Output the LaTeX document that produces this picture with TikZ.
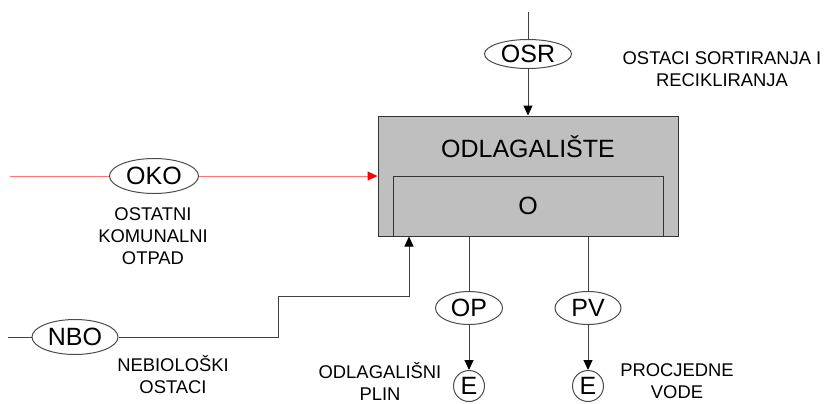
\documentclass[tikz,border=0pt]{standalone}
\usepackage{fontspec}
\setmainfont{Liberation Sans}
\usetikzlibrary{arrows.meta,shapes.geometric}
\begin{document}
\begin{tikzpicture}[x=0.5pt, y=-0.5pt, line width=0.5pt,
  box/.style={rectangle, draw=black!80, fill=black!25, inner sep=0pt,
    font=\fontsize{12.5}{15}\selectfont},
  tok/.style={ellipse, draw=black!70, fill=white, inner sep=0pt,
    minimum width=#1, minimum height=16.5pt, font=\fontsize{12.5}{15}\selectfont},
  ecirc/.style={circle, draw=black!70, fill=white, inner sep=0pt,
    minimum size=15.5pt, font=\fontsize{12.5}{15}\selectfont},
  lbl/.style={align=center, font=\fontsize{9.2}{11}\selectfont},
  arr/.style={draw=black!75, -{Triangle[width=4.5pt,length=5pt,fill=black,color=black]}},
  redarr/.style={draw=red!55, -{Triangle[width=4.5pt,length=5pt,color=red]}}
]
\useasboundingbox (0,0) rectangle (826,403);

% odlagaliste
\node[box, minimum width=150pt, minimum height=60pt] (odl) at (528,176) {};
\node[font=\fontsize{12.5}{15}\selectfont] (odltxt) at (528,147) {ODLAGALIŠTE};
\node[box, minimum width=135pt, minimum height=30pt, anchor=south] (o) at (odl.south) {O};

% ulaz OSR
\coordinate (osrin) at (528,12);
\node[tok=43.5pt, minimum height=14.5pt] (osr) at (528,54) {OSR};
\node[lbl] (osrlbl) at (722,69) {OSTACI SORTIRANJA I\\RECIKLIRANJA};
\draw[draw=black!75] (osrin) -- (osr);
\draw[arr] (osr) -- (odl.north);

% ulaz OKO
\coordinate (okoin) at (10,176);
\node[tok=44.5pt, minimum height=17.5pt] (oko) at (154,176) {OKO};
\node[lbl] (okolbl) at (153,236) {OSTATNI\\KOMUNALNI\\OTPAD};
\draw[draw=red!55] (okoin) -- (oko);
\draw[redarr] (oko) -- (odl.west);

% ulaz NBO
\coordinate (nboin) at (8,337);
\node[tok=43pt, minimum height=17.5pt] (nbo) at (75,337) {NBO};
\node[lbl] (nbolbl) at (173,375) {NEBIOLOŠKI\\OSTACI};
\draw[draw=black!75] (nboin) -- (nbo);
\draw[arr] (nbo) -- (278,337) -- (278,296) -- (409,296) -- (odl.south -| 409,0);

% izlaz OP
\node[tok=33.5pt] (op) at (469,308) {OP};
\node[ecirc] (eop) at (469,386) {E};
\node[lbl] (oplbl) at (380,381) {ODLAGALIŠNI\\PLIN};
\draw[draw=black!75] (odl.south -| op) -- (op);
\draw[arr] (op) -- (eop);

% izlaz PV
\node[tok=33pt] (pv) at (588,308) {PV};
\node[ecirc] (epv) at (588,386) {E};
\node[lbl] (pvlbl) at (677,381) {PROCJEDNE\\VODE};
\draw[draw=black!75] (odl.south -| pv) -- (pv);
\draw[arr] (pv) -- (epv);
\end{tikzpicture}
\end{document}
